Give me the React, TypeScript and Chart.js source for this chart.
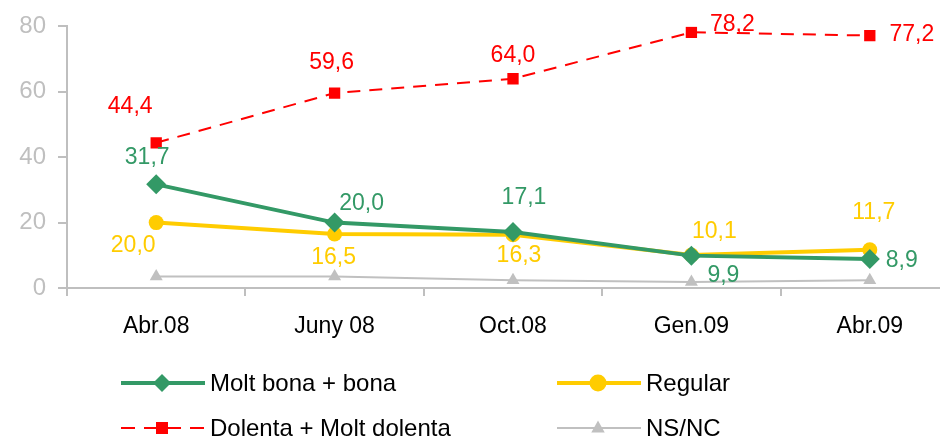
import React, { useEffect, useRef } from "react";
import { Chart, registerables } from "chart.js";

Chart.register(...registerables);

const categories = ["Abr.08", "Juny 08", "Oct.08", "Gen.09", "Abr.09"];
const moltBona = [31.7, 20.0, 17.1, 9.9, 8.9];
const regular = [20.0, 16.5, 16.3, 10.1, 11.7];
const dolenta = [44.4, 59.6, 64.0, 78.2, 77.2];
const nsnc = [3.5, 3.5, 2.4, 1.8, 2.4];
const yTicks = [0, 20, 40, 60, 80];

const GREEN = "#339966";
const YELLOW = "#FFCC00";
const RED = "#FF0000";
const GRAY = "#C0C0C0";
const AXIS = "#BFBFBF";
const FONT = "'Liberation Sans', Arial, sans-serif";

// label offsets (dx, dy) per point for each labelled dataset
const labelOffsets: Record<number, [number, number][]> = {
  0: [[-9, -27], [27, -19], [11, -34], [32, 20], [32, 2]],
  1: [[-23, 23], [-1, 24], [6, 21], [23, -23], [4, -37]],
  2: [[-26, -36], [-3, -30], [0, -23], [41, -8], [42, -1]],
};

const fmt = (v: number) => v.toFixed(1).replace(".", ",");

const dataLabelPlugin = {
  id: "dataLabels",
  afterDatasetsDraw(chart: any) {
    const ctx = chart.ctx;
    ctx.save();
    ctx.font = `23px ${FONT}`;
    ctx.textAlign = "center";
    ctx.textBaseline = "middle";
    chart.data.datasets.forEach((ds: any, i: number) => {
      const offs = labelOffsets[i];
      if (!offs) return;
      const meta = chart.getDatasetMeta(i);
      ctx.fillStyle = ds.borderColor;
      meta.data.forEach((pt: any, j: number) => {
        const [dx, dy] = offs[j];
        ctx.fillText(fmt(ds.data[j]), pt.x + dx, pt.y + dy);
      });
    });
    ctx.restore();
  },
};

function drawMarker(ctx: CanvasRenderingContext2D, style: string, x: number, y: number, r: number, color: string) {
  ctx.fillStyle = color;
  ctx.beginPath();
  if (style === "rectRot") {
    ctx.moveTo(x, y - r);
    ctx.lineTo(x + r, y);
    ctx.lineTo(x, y + r);
    ctx.lineTo(x - r, y);
    ctx.closePath();
  } else if (style === "circle") {
    ctx.arc(x, y, r, 0, Math.PI * 2);
  } else if (style === "rect") {
    ctx.rect(x - r, y - r, 2 * r, 2 * r);
  } else if (style === "triangle") {
    ctx.moveTo(x, y - r);
    ctx.lineTo(x + r * 0.9, y + r * 0.6);
    ctx.lineTo(x - r * 0.9, y + r * 0.6);
    ctx.closePath();
  }
  ctx.fill();
}

const legendPlugin = {
  id: "customLegend",
  afterDraw(chart: any) {
    const ctx: CanvasRenderingContext2D = chart.ctx;
    const items = [
      { text: "Molt bona + bona", color: GREEN, style: "rectRot", r: 9, lw: 4, dash: [] as number[], x: 121, y: 383 },
      { text: "Regular", color: YELLOW, style: "circle", r: 8.5, lw: 4, dash: [] as number[], x: 557, y: 383 },
      { text: "Dolenta + Molt dolenta", color: RED, style: "rect", r: 6, lw: 2, dash: [14, 9], x: 121, y: 428 },
      { text: "NS/NC", color: GRAY, style: "triangle", r: 7.5, lw: 2, dash: [] as number[], x: 557, y: 428 },
    ];
    ctx.save();
    items.forEach((it) => {
      ctx.strokeStyle = it.color;
      ctx.lineWidth = it.lw;
      ctx.setLineDash(it.dash);
      ctx.beginPath();
      ctx.moveTo(it.x, it.y);
      ctx.lineTo(it.x + 84, it.y);
      ctx.stroke();
      ctx.setLineDash([]);
      drawMarker(ctx, it.style, it.x + 41, it.y, it.r, it.color);
      ctx.fillStyle = "#000";
      ctx.font = `24px ${FONT}`;
      ctx.textAlign = "left";
      ctx.textBaseline = "middle";
      ctx.fillText(it.text, it.x + 89, it.y + 1);
    });
    ctx.restore();
  },
};

export default function App() {
  const ref = useRef<HTMLCanvasElement>(null);
  useEffect(() => {
    if (!ref.current) return;
    const chart = new Chart(ref.current, {
      type: "line",
      data: {
        labels: categories,
        datasets: [
          {
            label: "Molt bona + bona",
            data: moltBona,
            borderColor: GREEN,
            backgroundColor: GREEN,
            borderWidth: 4,
            pointStyle: "rectRot",
            pointRadius: 10,
            pointBorderWidth: 0,
          },
          {
            label: "Regular",
            data: regular,
            borderColor: YELLOW,
            backgroundColor: YELLOW,
            borderWidth: 4,
            pointStyle: "circle",
            pointRadius: 7.5,
            pointBorderWidth: 0,
          },
          {
            label: "Dolenta + Molt dolenta",
            data: dolenta,
            borderColor: RED,
            backgroundColor: RED,
            borderWidth: 2,
            borderDash: [13, 9],
            pointStyle: "rect",
            pointRadius: 8,
            pointBorderWidth: 0,
          },
          {
            label: "NS/NC",
            data: nsnc,
            borderColor: GRAY,
            backgroundColor: GRAY,
            borderWidth: 2,
            pointStyle: "triangle",
            pointRadius: 7.5,
            pointBorderWidth: 0,
          },
        ],
      },
      options: {
        responsive: false,
        animation: false,
        layout: { padding: { top: 24, right: 1, bottom: 0, left: 0 } },
        plugins: { legend: { display: false }, tooltip: { enabled: false } },
        scales: {
          x: {
            type: "category",
            offset: true,
            grid: { offset: true, drawOnChartArea: false, drawTicks: true, tickLength: 8, color: AXIS, lineWidth: 2 },
            border: { display: true, color: AXIS, width: 2 },
            ticks: { color: "#000", font: { family: FONT, size: 23 }, padding: 17, maxRotation: 0 },
            afterFit: (s: any) => { s.height = 152; },
          },
          y: {
            min: 0,
            max: 80,
            afterBuildTicks: (s: any) => { s.ticks = yTicks.map((v) => ({ value: v })); },
            grid: { drawOnChartArea: false, drawTicks: true, tickLength: 9, color: AXIS, lineWidth: 2 },
            border: { display: true, color: AXIS, width: 2 },
            ticks: { color: "#BFBFBF", font: { family: FONT, size: 24 }, padding: 12 },
            afterFit: (s: any) => { s.width = 67; },
          },
        },
      },
      plugins: [dataLabelPlugin, legendPlugin],
    } as any);
    return () => chart.destroy();
  }, []);
  return (
    <div style={{ position: "fixed", left: 0, top: 0, width: 940, height: 440, overflow: "hidden", background: "#fff" }}>
      <canvas ref={ref} width={969} height={440} style={{ width: 969, height: 440 }} />
    </div>
  );
}
